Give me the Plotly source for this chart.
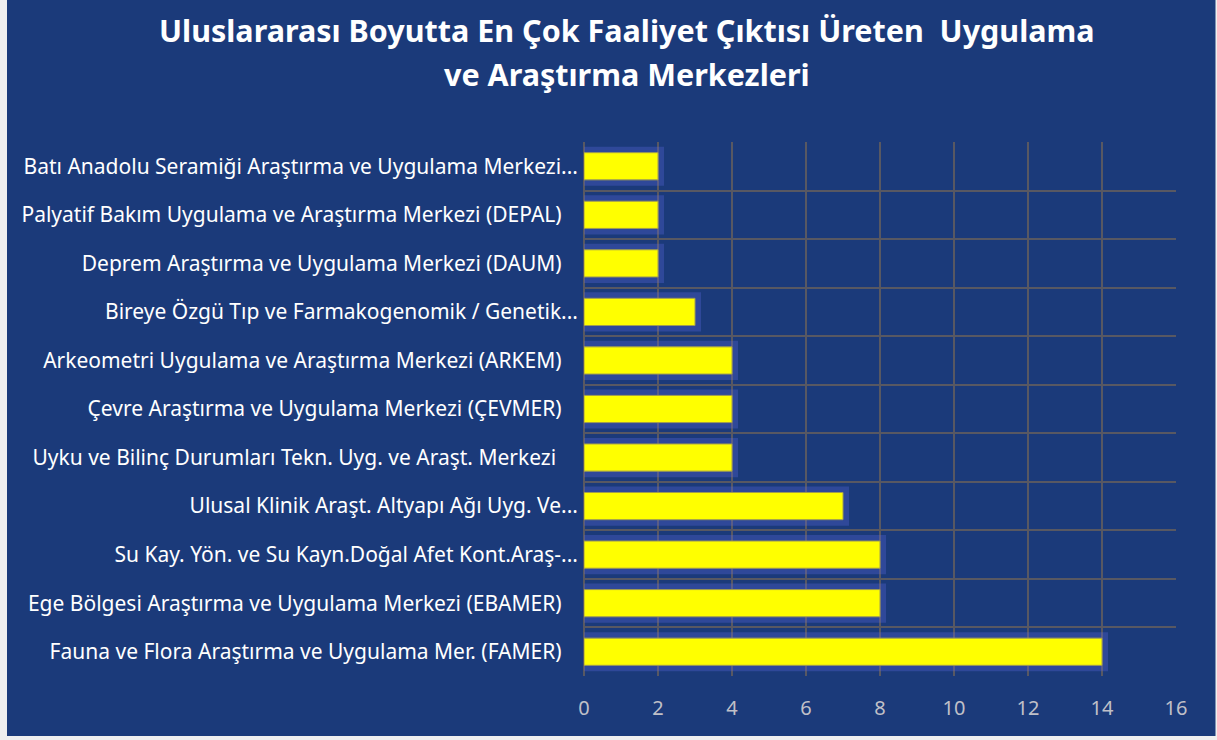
import plotly.graph_objects as go

categories = [
    "Fauna ve Flora Araştırma ve Uygulama Mer. (FAMER)",
    "Ege Bölgesi Araştırma ve Uygulama Merkezi (EBAMER)",
    "Su Kay. Yön. ve Su Kayn.Doğal Afet Kont.Araş-...",
    "Ulusal Klinik Araşt. Altyapı Ağı Uyg. Ve...",
    "Uyku ve Bilinç Durumları Tekn. Uyg. ve Araşt. Merkezi ",
    "Çevre Araştırma ve Uygulama Merkezi (ÇEVMER)",
    "Arkeometri Uygulama ve Araştırma Merkezi (ARKEM)",
    "Bireye Özgü Tıp ve Farmakogenomik / Genetik...",
    "Deprem Araştırma ve Uygulama Merkezi (DAUM)",
    "Palyatif Bakım Uygulama ve Araştırma Merkezi (DEPAL)",
    "Batı Anadolu Seramiği Araştırma ve Uygulama Merkezi...",
]
values = [14, 8, 8, 7, 4, 4, 4, 3, 2, 2, 2]
x_ticks = [0, 2, 4, 6, 8, 10, 12, 14, 16]
title_line1 = "Uluslararası Boyutta En Çok Faaliyet Çıktısı Üreten  Uygulama"
title_line2 = "ve Araştırma Merkezleri"

W, H = 1217, 740
L, R, T, B = 584, 41, 142, 64
pw, ph = W - L - R, H - T - B

def px_x(p):
    return (p - L) / pw

def px_y(p):
    return (H - B - p) / ph

BG = "#1b3a7a"
GRID = "#585862"
FONT = "Noto Sans"

# Excel right-aligns full labels a little further from the axis than truncated ones
NBSP = "\u00a0"
tick_text = [c if c.endswith("...") else c + NBSP * 3 for c in categories]

fig = go.Figure()
# glow behind bars
fig.add_trace(go.Bar(
    y=categories, x=values, orientation="h",
    marker=dict(color="rgba(95,105,225,0.45)",
                line=dict(color="rgba(95,105,225,0.3)", width=12)),
    width=0.56, hoverinfo="skip", showlegend=False,
))
fig.add_trace(go.Bar(
    y=categories, x=values, orientation="h",
    marker=dict(color="#ffff00", line=dict(color="#a09c50", width=1)),
    width=0.56, showlegend=False,
))

fig.update_layout(
    width=W, height=H,
    margin=dict(l=L, r=R, t=T, b=B, autoexpand=False),
    paper_bgcolor="#efefef",
    plot_bgcolor="rgba(0,0,0,0)",
    barmode="overlay",
    font=dict(family=FONT, color="white"),
    xaxis=dict(
        range=[0, 16], tickvals=x_ticks, showgrid=True, gridcolor=GRID,
        gridwidth=2, zeroline=False, showline=False,
        tickfont=dict(family=FONT, size=20, color="#c0c0c8"),
        ticks="", ticklabelstandoff=18,
    ),
    yaxis=dict(
        type="category", categoryorder="array", categoryarray=categories,
        tickvals=categories, ticktext=tick_text,
        range=[-0.5, len(categories) - 0.5],
        showgrid=True, gridcolor=GRID, gridwidth=2, tickson="boundaries",
        ticks="", showline=False, zeroline=False,
        tickfont=dict(family=FONT, size=21, color="white"),
        ticklabelstandoff=5,
    ),
    shapes=[
        dict(type="rect", xref="paper", yref="paper", layer="below",
             x0=px_x(7), x1=px_x(1215.5), y0=px_y(0), y1=px_y(736),
             fillcolor=BG, line=dict(width=0)),
        dict(type="line", xref="paper", yref="paper", layer="below",
             x0=0, x1=0, y0=0, y1=1, line=dict(color=GRID, width=2)),
    ],
    annotations=[
        dict(text=title_line1, xref="paper", yref="paper", x=px_x(627), y=px_y(30),
             xanchor="center", yanchor="middle", showarrow=False,
             font=dict(family=FONT, size=30.5, color="white", weight="bold")),
        dict(text=title_line2, xref="paper", yref="paper", x=px_x(627), y=px_y(74),
             xanchor="center", yanchor="middle", showarrow=False,
             font=dict(family=FONT, size=30.5, color="white", weight="bold")),
    ],
)

fig.write_html("out.html", config={"displayModeBar": False},
               post_script="document.body.style.margin='0';")
